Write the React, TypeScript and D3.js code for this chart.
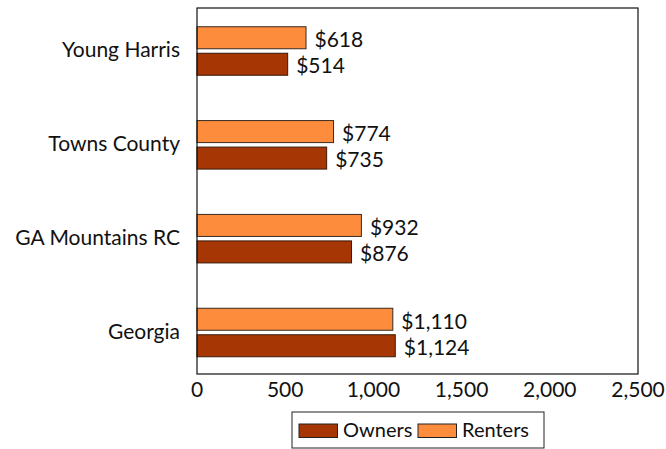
import React from "react";
import * as d3 from "d3";

const categories = ["Young Harris", "Towns County", "GA Mountains RC", "Georgia"];
const renters = [618, 774, 932, 1110];
const owners = [514, 735, 876, 1124];
const xTicks = [0, 500, 1000, 1500, 2000, 2500];
const seriesNames = ["Owners", "Renters"];

const W = 666, H = 449;
const left = 197, right = 638, top = 8, bottom = 374;
const FONT = "Lato, 'DejaVu Sans', sans-serif";
const FS = 21;
const OWN = "#A63603";
const REN = "#FD8D3C";

export default function App() {
  const x = d3.scaleLinear().domain([0, 2500]).range([left, right]);
  const y = d3.scalePoint<string>().domain(categories).range([51, 332.5]);
  const barH = 22;
  const gap = 4.5;
  const fmt = d3.format(",");
  return (
    <svg width={W} height={H} style={{ position: "absolute", left: 0, top: 0 }} fontFamily={FONT}>
      <rect x={0} y={0} width={W} height={H} fill="white" />
      {categories.map((c, i) => {
        const cy = y(c)!;
        const rc = cy - gap / 2 - barH / 2;
        const oc = cy + gap / 2 + barH / 2;
        return (
          <g key={c}>
            <rect x={x(0)} y={rc - barH / 2} width={x(renters[i]) - x(0)} height={barH} fill={REN} stroke="#3a2a20" strokeWidth={1} />
            <rect x={x(0)} y={oc - barH / 2} width={x(owners[i]) - x(0)} height={barH} fill={OWN} stroke="#3a1a08" strokeWidth={1} />
            <text x={x(renters[i]) + 8.5} y={rc + 9.5} fontSize={FS} fill="#111">${fmt(renters[i])}</text>
            <text x={x(owners[i]) + 8.5} y={oc + 9} fontSize={FS} fill="#111">${fmt(owners[i])}</text>
            <text x={180} y={cy + 6} fontSize={FS} textAnchor="end" fill="#111">{c}</text>
          </g>
        );
      })}
      <rect x={left} y={top} width={right - left} height={bottom - top} fill="none" stroke="#111" strokeWidth={1.2} />
      {xTicks.map((t) => (
        <text key={t} x={x(t)} y={397} fontSize={FS} textAnchor="middle" fill="#111">{fmt(t)}</text>
      ))}
      <g>
        <rect x={292} y={412} width={252} height={36} fill="white" stroke="#222" strokeWidth={1} />
        <rect x={299} y={424} width={38.5} height={13.5} fill={OWN} stroke="#222" strokeWidth={1} />
        <text x={343} y={437} fontSize={20} fill="#111">{seriesNames[0]}</text>
        <rect x={418} y={424} width={38.5} height={13.5} fill={REN} stroke="#222" strokeWidth={1} />
        <text x={462} y={437} fontSize={20} fill="#111">{seriesNames[1]}</text>
      </g>
    </svg>
  );
}
